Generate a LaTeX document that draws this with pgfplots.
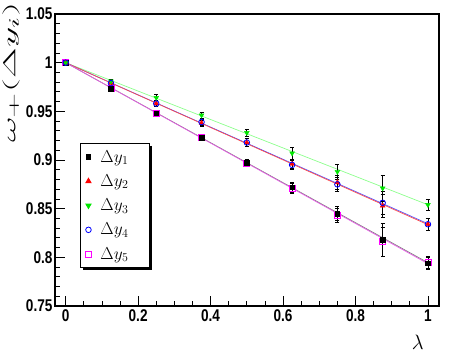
\documentclass[border=0pt]{standalone}
\usepackage{pgfplots}
\pgfplotsset{compat=1.18}
\usepackage{pgfplotstable}
\usepackage{fontspec}
\setmainfont{Liberation Sans}
\newfontfamily\tickfont[FakeStretch=0.8]{Liberation Sans}

\definecolor{rgreen}{RGB}{0,230,0}
\definecolor{lgreen}{RGB}{140,255,140}
\definecolor{rmag}{RGB}{255,0,255}
\definecolor{lmag}{RGB}{230,90,230}

\pgfplotstableread{
x     y1    e1    y2    e2    y3    e3    y4    e4    y5    e5
0     1.000 0.001 1.000 0.001 1.000 0.001 1.000 0.001 1.000 0.001
0.125 0.973 0.002 0.979 0.002 0.981 0.002 0.979 0.002 0.974 0.002
0.25  0.948 0.003 0.958 0.003 0.964 0.003 0.958 0.003 0.948 0.003
0.375 0.923 0.003 0.938 0.003 0.946 0.003 0.939 0.003 0.923 0.003
0.5   0.897 0.004 0.918 0.004 0.928 0.004 0.918 0.004 0.897 0.004
0.625 0.872 0.005 0.896 0.005 0.907 0.006 0.895 0.005 0.871 0.005
0.75  0.845 0.007 0.877 0.007 0.888 0.008 0.875 0.007 0.843 0.007
0.875 0.818 0.017 0.853 0.012 0.871 0.013 0.856 0.012 0.816 0.015
1     0.794 0.006 0.834 0.006 0.854 0.006 0.834 0.006 0.795 0.006
}\data

\begin{document}
\begin{tikzpicture}
\useasboundingbox (0,0) rectangle (458pt,354pt);
\begin{axis}[
    at={(55pt,48pt)}, anchor=south west,
    scale only axis, width=384pt, height=292pt,
    xmin=-0.0295, xmax=1.0305, ymin=0.75, ymax=1.05,
    xtick={0,0.2,...,1}, ytick={0.75,0.8,...,1.05},
    minor x tick num=3, minor y tick num=4,
    tick pos=left, tick align=inside,
    major tick length=10pt, minor tick length=5pt,
    tick style={black, line width=0.8pt},
    axis line style={line width=2.5pt},
    /pgf/number format/assume math mode=true,
    ticklabel style={font=\tickfont\bfseries\fontsize{17}{17}\selectfont},
    yticklabel style={xshift=1pt},
    ylabel={\fontsize{19}{19}\selectfont\scalebox{2.3}[1]{$\omega_+(\Delta y_i)$}},
    ylabel style={at={(axis description cs:-0.1146,0.80)}, anchor=center},
    xlabel={\fontsize{22}{22}\selectfont$\lambda$},
    xlabel style={at={(axis description cs:0.945,-0.123)}, anchor=center},
    legend style={name=leg, at={(axis description cs:0.065,0.559)}, anchor=north west,
        draw=black, line width=1pt, fill=white,
        font=\fontsize{17}{17}\selectfont, row sep=9pt,
        inner xsep=0pt, inner ysep=6pt,
        nodes={inner xsep=2pt, inner ysep=1pt, text width=47pt}},
    legend cell align=left,
    legend image code/.code={%
        \pgfpathrectangle{\pgfpoint{0pt}{-3pt}}{\pgfpoint{18pt}{6pt}}\pgfusepath{discard}%
        \draw[#1] plot coordinates {(8pt,0pt)};},
    error bars/error bar style={black, line width=0.7pt},
    error bars/error mark options={black, rotate=90, mark size=2pt, line width=0.7pt},
]
% legend images
\addlegendimage{only marks, mark=square*, mark size=2.3pt, black}
\addlegendentry{$\Delta y_1$}
\addlegendimage{only marks, mark=triangle*, mark size=2.8pt, red}
\addlegendentry{$\Delta y_2$}
\addlegendimage{only marks, mark=triangle*, mark options={rotate=180}, mark size=2.8pt, rgreen}
\addlegendentry{$\Delta y_3$}
\addlegendimage{only marks, mark=o, mark size=2.8pt, blue, mark options={line width=0.8pt, draw=blue}}
\addlegendentry{$\Delta y_4$}
\addlegendimage{only marks, mark=square*, mark size=3pt, color=rmag,
    mark options={line width=0.8pt, draw=rmag, fill=white}}
\addlegendentry{$\Delta y_5$}
% fitted lines
\addplot[lgreen, line width=0.7pt, forget plot] coordinates {(0,1) (1,0.854)};
\addplot[blue!70, line width=0.7pt, forget plot] coordinates {(0,1) (1,0.8345)};
\addplot[red!70, line width=0.7pt, forget plot] coordinates {(0,1) (1,0.8335)};
\addplot[gray, line width=0.7pt, forget plot] coordinates {(0,1) (1,0.7945)};
\addplot[lmag, line width=0.7pt, forget plot] coordinates {(0,1) (1,0.7935)};
% data
\addplot[only marks, mark=square, mark size=3pt, color=rmag, mark options={line width=0.8pt, draw=rmag}, forget plot,
    error bars/.cd, y dir=both, y explicit]
    table[x=x, y=y5, y error=e5] {\data};
\addplot[only marks, mark=square*, mark size=2.3pt, black, forget plot,
    error bars/.cd, y dir=both, y explicit]
    table[x=x, y=y1, y error=e1] {\data};
\addplot[only marks, mark=triangle*, mark size=2.8pt, red, forget plot,
    error bars/.cd, y dir=both, y explicit]
    table[x=x, y=y2, y error=e2] {\data};
\addplot[only marks, mark=triangle*, mark options={rotate=180}, mark size=2.8pt, rgreen, forget plot,
    error bars/.cd, y dir=both, y explicit]
    table[x=x, y=y3, y error=e3] {\data};
\addplot[only marks, mark=o, mark size=2.8pt, blue, mark options={line width=0.8pt}, forget plot,
    error bars/.cd, y dir=both, y explicit]
    table[x=x, y=y4, y error=e4] {\data};
\end{axis}
% legend box shadow
\draw[line width=2pt] ([xshift=1.5pt,yshift=-3pt]leg.north east) -- ([xshift=1.5pt,yshift=-1pt]leg.south east)
    -- ([xshift=3pt,yshift=-1pt]leg.south west);
\end{tikzpicture}
\end{document}
